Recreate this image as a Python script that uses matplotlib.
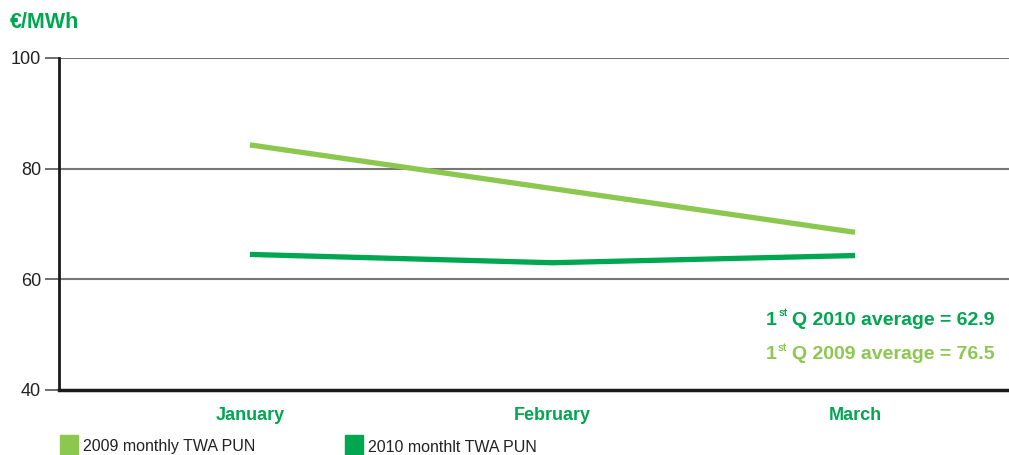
import matplotlib.pyplot as plt
from matplotlib.patches import Rectangle

plt.rcParams['font.family'] = ['Liberation Sans', 'DejaVu Sans']

months = ['January', 'February', 'March']
pun_2009 = [84.3, 76.4, 68.5]
pun_2010 = [64.5, 63.0, 64.3]
avg_2009 = 76.5
avg_2010 = 62.9
legend_labels = ['2009 monthly TWA PUN', '2010 monthlt TWA PUN']

light_green = '#8cc84f'
dark_green = '#00a650'

fig = plt.figure(figsize=(10.09, 4.55), dpi=100)
ax = fig.add_axes([59 / 1009, 1 - 390 / 455, 950 / 1009, 332 / 455])

x = list(range(len(months)))
ax.plot(x, pun_2009, color=light_green, lw=3.8, solid_capstyle='butt', zorder=3)
ax.plot(x, pun_2010, color=dark_green, lw=3.8, solid_capstyle='butt', zorder=3)

ax.set_xlim(-0.631, 2.509)
ax.set_ylim(40, 100)
ax.set_yticks([40, 60, 80, 100])
ax.tick_params(axis='y', length=10, width=1.2, color='#555555', labelsize=13,
               pad=3, labelcolor='#222222')
ax.set_xticks(x)
ax.set_xticklabels(months, fontsize=13, fontweight='bold', color=dark_green)
ax.tick_params(axis='x', length=0, pad=12)

for y in [60, 80, 100]:
    ax.axhline(y, color='#777777', lw=1.5, zorder=1)

for s in ['top', 'right']:
    ax.spines[s].set_visible(False)
ax.spines['left'].set_linewidth(2)
ax.spines['left'].set_color('#1a1a1a')
ax.spines['bottom'].set_linewidth(2.5)
ax.spines['bottom'].set_color('#1a1a1a')

fig.text(10 / 1009, 1 - 22 / 455, '€/MWh', fontsize=15.5, fontweight='bold',
         color=dark_green, va='center', ha='left')


def average_label(yfrac, year, value, col):
    # "1st Q yyyy average = v" built right to left so the "st" sits small and raised
    main = ax.text(0.985, yfrac, 'Q %d average = %.1f' % (year, value),
                   transform=ax.transAxes, ha='right', va='bottom',
                   fontsize=14, fontweight='bold', color=col)
    ax.annotate('st', xy=(0, 0), xycoords=main, xytext=(-3.5, 7.5),
                textcoords='offset points', ha='right', va='bottom',
                fontsize=7.5, fontweight='bold', color=col)
    ax.annotate('1', xy=(0, 0), xycoords=main, xytext=(-11, 0),
                textcoords='offset points', ha='right', va='bottom',
                fontsize=14, fontweight='bold', color=col)


average_label(0.185, 2010, avg_2010, dark_green)
average_label(0.081, 2009, avg_2009, light_green)

# legend swatches along the bottom edge
for lx, label, col in [(60, legend_labels[0], light_green),
                       (345, legend_labels[1], dark_green)]:
    fig.patches.append(Rectangle((lx / 1009, 0), 18 / 1009, 20 / 455,
                                 transform=fig.transFigure, color=col))
    fig.text((lx + 23) / 1009, 1 - 447 / 455, label, fontsize=11.5,
             color='#222222', va='center', ha='left')

fig.savefig('out.png', dpi=100)
